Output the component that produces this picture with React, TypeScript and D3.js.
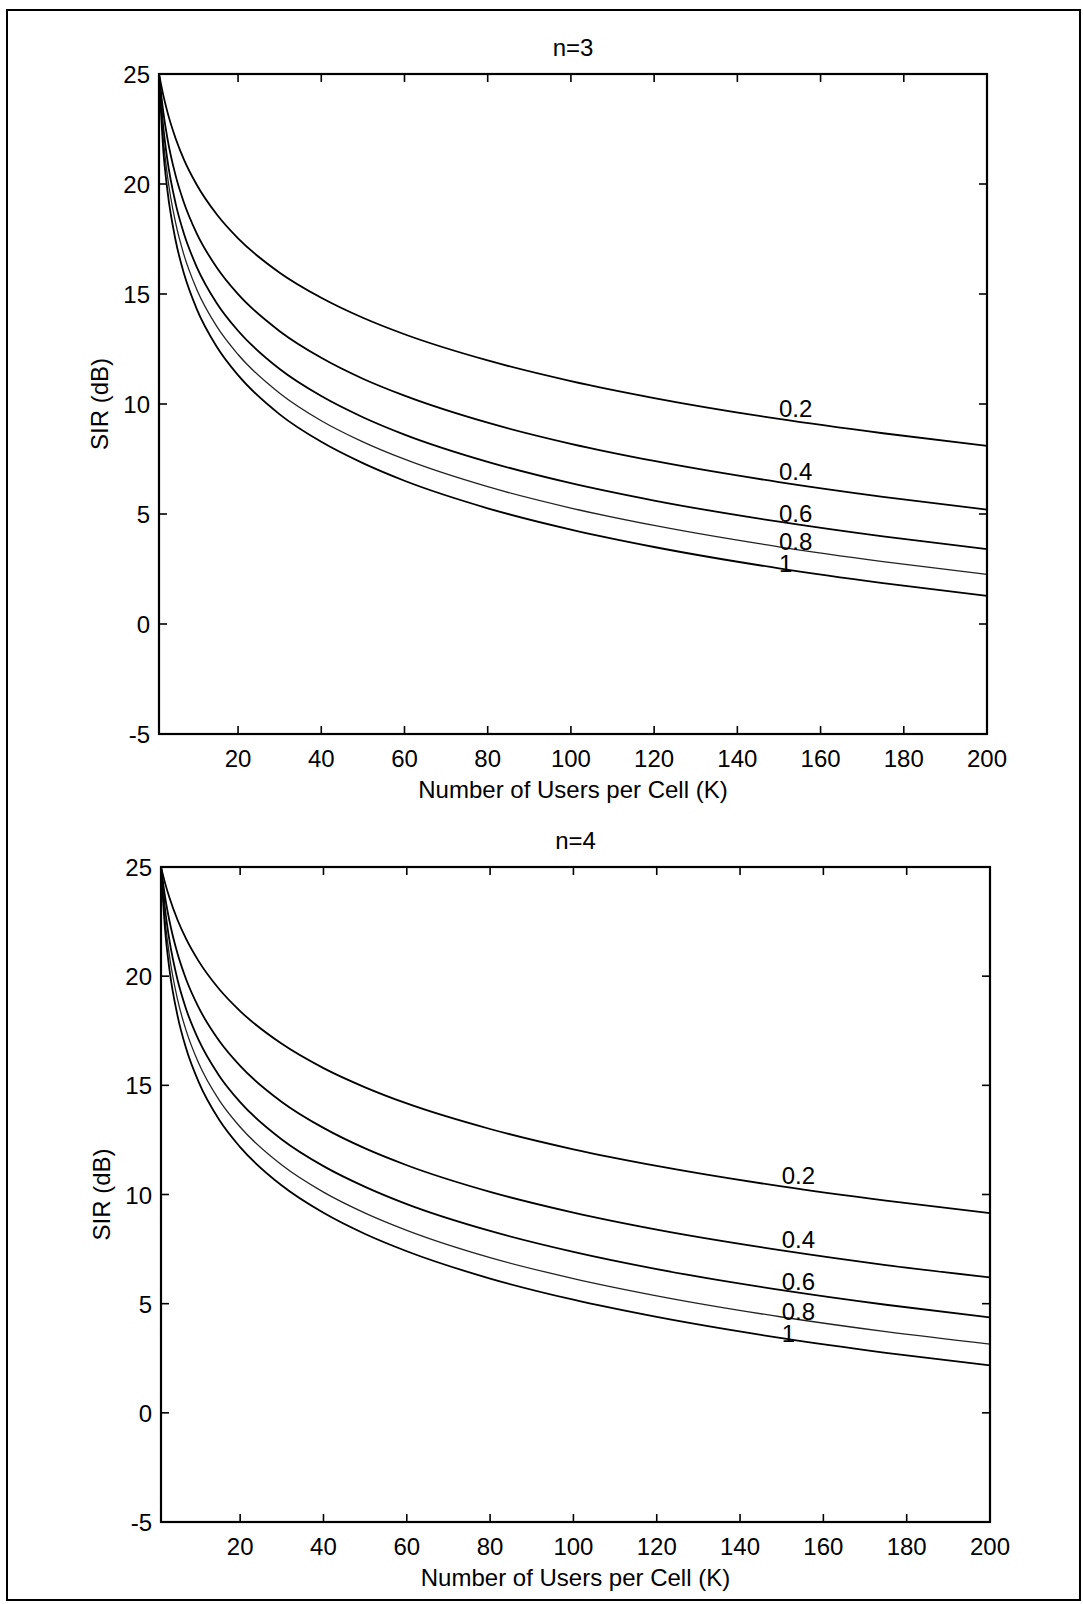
import React from "react";
import * as d3 from "d3";

const K = [1, 2, 3, 5, 7, 10, 15, 20, 30, 40, 50, 60, 80, 100, 120, 150, 175, 200];
const seriesNames = ["0.2", "0.4", "0.6", "0.8", "1"];

const sirN3_02 = [25.0, 24.06, 23.29, 22.07, 21.11, 19.99, 18.59, 17.53, 15.97, 14.83, 13.92, 13.17, 11.98, 11.04, 10.27, 9.32, 8.67, 8.1];
const sirN3_04 = [25.0, 23.32, 22.1, 20.38, 19.15, 17.78, 16.17, 14.99, 13.31, 12.1, 11.15, 10.38, 9.15, 8.19, 7.41, 6.45, 5.78, 5.2];
const sirN3_06 = [25.0, 22.64, 21.12, 19.11, 17.74, 16.26, 14.55, 13.33, 11.59, 10.36, 9.4, 8.61, 7.37, 6.4, 5.61, 4.65, 3.98, 3.4];
const sirN3_08 = [25.0, 22.13, 20.41, 18.23, 16.78, 15.24, 13.49, 12.25, 10.49, 9.24, 8.28, 7.49, 6.24, 5.27, 4.48, 3.51, 2.84, 2.26];
const sirN3_10 = [25.0, 21.62, 19.74, 17.43, 15.93, 14.35, 12.57, 11.31, 9.53, 8.28, 7.31, 6.51, 5.26, 4.29, 3.5, 2.53, 1.86, 1.28];

const sirN4_02 = [25.0, 24.25, 23.61, 22.56, 21.72, 20.7, 19.4, 18.4, 16.9, 15.79, 14.91, 14.17, 13.0, 12.07, 11.31, 10.37, 9.72, 9.15];
const sirN4_04 = [25.0, 23.61, 22.56, 21.01, 19.87, 18.58, 17.03, 15.89, 14.24, 13.05, 12.11, 11.34, 10.12, 9.17, 8.39, 7.44, 6.77, 6.2];
const sirN4_06 = [25.0, 23.03, 21.67, 19.81, 18.51, 17.09, 15.43, 14.23, 12.52, 11.3, 10.35, 9.56, 8.33, 7.37, 6.58, 5.62, 4.95, 4.37];
const sirN4_08 = [25.0, 22.53, 20.97, 18.91, 17.53, 16.03, 14.31, 13.09, 11.35, 10.11, 9.15, 8.36, 7.11, 6.15, 5.36, 4.39, 3.72, 3.15];
const sirN4_10 = [25.0, 22.08, 20.35, 18.16, 16.71, 15.17, 13.41, 12.17, 10.41, 9.16, 8.19, 7.4, 6.15, 5.18, 4.39, 3.42, 2.75, 2.17];

const xTicks = [20, 40, 60, 80, 100, 120, 140, 160, 180, 200];
const yTicks = [-5, 0, 5, 10, 15, 20, 25];
const labelK = 150;
const titles = ["n=3", "n=4"];
const xLabel = "Number of Users per Cell (K)";
const yLabel = "SIR (dB)";

const panels = [
  { title: titles[0], series: [sirN3_02, sirN3_04, sirN3_06, sirN3_08, sirN3_10], left: 159, right: 987, top: 74, bottom: 734 },
  { title: titles[1], series: [sirN4_02, sirN4_04, sirN4_06, sirN4_08, sirN4_10], left: 161, right: 990, top: 867, bottom: 1522 },
];

const labelOffsets = [-2, -2, 0, 3, 4];
const FONT = "'Liberation Sans', Arial, Helvetica, sans-serif";

function Panel({ p }: { p: typeof panels[0] }) {
  const x = d3.scaleLinear().domain([1, 200]).range([p.left, p.right]);
  const y = d3.scaleLinear().domain([-5, 25]).range([p.bottom, p.top]);
  const line = d3
    .line<number>()
    .x((_, i) => x(K[i]))
    .y((d) => y(d))
    .curve(d3.curveMonotoneX);
  const tl = 8;
  const idx150 = K.indexOf(labelK);
  return (
    <g fontFamily={FONT}>
      {p.series.map((s, i) => (
        <path
          key={i}
          d={line(s) || ""}
          fill="none"
          stroke={i === 3 ? "#222" : "#000"}
          strokeWidth={i === 3 ? 1.3 : 1.8}
        />
      ))}
      <rect x={p.left} y={p.top} width={p.right - p.left} height={p.bottom - p.top} fill="none" stroke="#000" strokeWidth={2.2} />
      {xTicks.map((t) => (
        <g key={"x" + t}>
          <line x1={x(t)} x2={x(t)} y1={p.bottom} y2={p.bottom - tl} stroke="#000" strokeWidth={1.6} />
          <line x1={x(t)} x2={x(t)} y1={p.top} y2={p.top + tl} stroke="#000" strokeWidth={1.6} />
          <text x={x(t)} y={p.bottom + 33} textAnchor="middle" fontSize={24}>
            {t}
          </text>
        </g>
      ))}
      {yTicks.map((t) => (
        <g key={"y" + t}>
          <line x1={p.left} x2={p.left + tl} y1={y(t)} y2={y(t)} stroke="#000" strokeWidth={1.6} />
          <line x1={p.right} x2={p.right - tl} y1={y(t)} y2={y(t)} stroke="#000" strokeWidth={1.6} />
          <text x={p.left - 9} y={y(t) + 9} textAnchor="end" fontSize={24}>
            {t}
          </text>
        </g>
      ))}
      <text x={(p.left + p.right) / 2} y={p.top - 18} textAnchor="middle" fontSize={24}>
        {p.title}
      </text>
      <text x={(p.left + p.right) / 2} y={p.bottom + 64} textAnchor="middle" fontSize={24}>
        {xLabel}
      </text>
      <text
        transform={`translate(${p.left - 51},${(p.top + p.bottom) / 2}) rotate(-90)`}
        textAnchor="middle"
        fontSize={24}
      >
        {yLabel}
      </text>
      {p.series.map((s, i) => (
        <text key={"l" + i} x={x(labelK)} y={y(s[idx150]) + labelOffsets[i]} fontSize={24}>
          {seriesNames[i]}
        </text>
      ))}
    </g>
  );
}

export default function App() {
  return (
    <svg
      width={1083}
      height={1604}
      style={{ position: "absolute", left: 0, top: 0, background: "#fff" }}
    >
      <rect x={0} y={0} width={1083} height={1604} fill="#fff" />
      <rect x={7} y={10} width={1073} height={1590} fill="none" stroke="#000" strokeWidth={2} />
      {panels.map((p, i) => (
        <Panel key={i} p={p} />
      ))}
    </svg>
  );
}
